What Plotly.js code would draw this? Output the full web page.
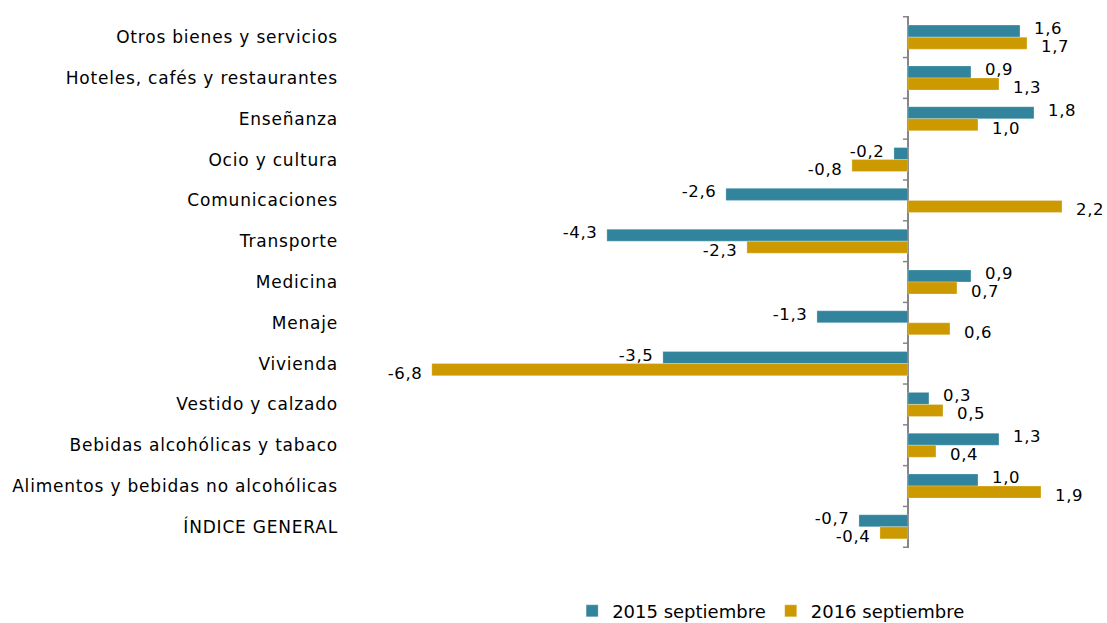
<!DOCTYPE html>
<html>
<head>
<meta charset="utf-8">
<script src="https://cdn.plot.ly/plotly-3.0.1.min.js"></script>
<style>
html,body{margin:0;padding:0;background:#fff;}
#chart{width:1107px;height:623px;}
#chart .ytick text{letter-spacing:0.8px;}
#chart .annotation-text{letter-spacing:0.6px;}
</style>
</head>
<body>
<div id="chart"></div>
<script>
const categories = [
  "Otros bienes y servicios",
  "Hoteles, cafés y restaurantes",
  "Enseñanza",
  "Ocio y cultura",
  "Comunicaciones",
  "Transporte",
  "Medicina",
  "Menaje",
  "Vivienda",
  "Vestido y calzado",
  "Bebidas alcohólicas y tabaco",
  "Alimentos y bebidas no alcohólicas",
  "ÍNDICE GENERAL"
];
const series2015 = [1.6, 0.9, 1.8, -0.2, -2.6, -4.3, 0.9, -1.3, -3.5, 0.3, 1.3, 1.0, -0.7];
const series2016 = [1.7, 1.3, 1.0, -0.8, 2.2, -2.3, 0.7, 0.6, -6.8, 0.5, 0.4, 1.9, -0.4];
const seriesNames = ["2015 septiembre", "2016 septiembre"];

const FONT = "DejaVu Sans, Verdana, sans-serif";
const C1 = "#31849B", C2 = "#CC9900";

const traces = [
  {type: "bar", orientation: "h", name: seriesNames[0], x: series2015, y: categories,
   marker: {color: C1, line: {color: "rgba(255,255,255,0.5)", width: 0.5}}, hoverinfo: "x+y"},
  {type: "bar", orientation: "h", name: seriesNames[1], x: series2016, y: categories,
   marker: {color: C2, line: {color: "rgba(255,255,255,0.5)", width: 0.5}}, hoverinfo: "x+y"}
];

function fmt(v) { return v.toFixed(1).replace(".", ","); }

const annotations = [];
[[series2015, 8.5], [series2016, -9.5]].forEach(([arr, ys]) => {
  arr.forEach((v, i) => {
    annotations.push({
      x: v, y: categories[i], xref: "x", yref: "y",
      text: fmt(v), showarrow: false,
      xanchor: v >= 0 ? "left" : "right",
      xshift: v >= 0 ? 13 : -9, yshift: ys,
      font: {family: FONT, size: 16.5, color: "#000"}
    });
  });
});

const shapes = [];
for (let i = 0; i <= categories.length; i++) {
  shapes.push({type: "line", xref: "x", yref: "y", xsizemode: "pixel", xanchor: 0,
    x0: -5, x1: 0, y0: i - 0.5, y1: i - 0.5, line: {color: "#868686", width: 1.5}});
}

const layout = {
  width: 1107, height: 623,
  margin: {l: 345, r: 17, t: 16, b: 75},
  paper_bgcolor: "#fff", plot_bgcolor: "#fff",
  font: {family: FONT, size: 17, color: "#000"},
  barmode: "group", bargap: 0.41, bargroupgap: 0,
  xaxis: {range: [-8.04, 2.6], showgrid: false, showticklabels: false, ticks: "",
          zeroline: true, zerolinecolor: "#868686", zerolinewidth: 2, showline: false, fixedrange: true},
  yaxis: {type: "category", autorange: "reversed", showgrid: false, showline: false, ticks: "",
          ticklabelstandoff: 6,
          tickfont: {family: FONT, size: 17, color: "#000"}, fixedrange: true},
  showlegend: true,
  legend: {orientation: "h", xref: "paper", yref: "container", x: 0.572, xanchor: "center",
           y: 0.019, yanchor: "middle", font: {family: FONT, size: 18, color: "#000"}},
  annotations: annotations,
  shapes: shapes
};

Plotly.newPlot("chart", traces, layout, {displayModeBar: false, staticPlot: true});
</script>
</body>
</html>
